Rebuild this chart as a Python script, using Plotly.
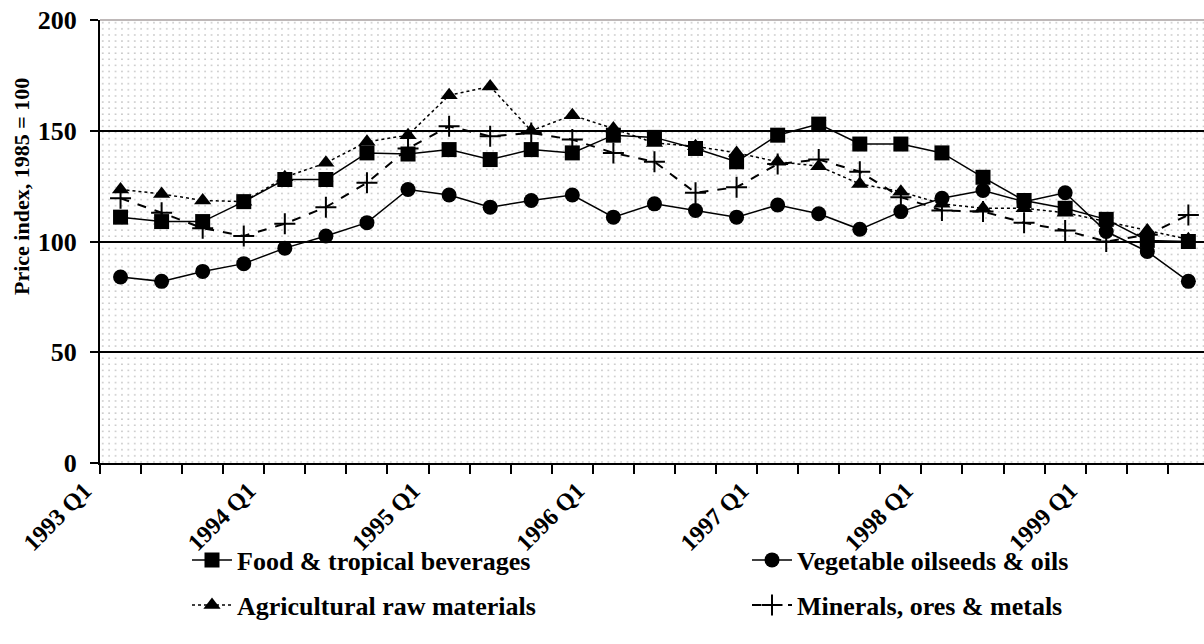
import base64
import plotly.graph_objects as go

quarters = ["1993 Q1", "1993 Q2", "1993 Q3", "1993 Q4",
            "1994 Q1", "1994 Q2", "1994 Q3", "1994 Q4",
            "1995 Q1", "1995 Q2", "1995 Q3", "1995 Q4",
            "1996 Q1", "1996 Q2", "1996 Q3", "1996 Q4",
            "1997 Q1", "1997 Q2", "1997 Q3", "1997 Q4",
            "1998 Q1", "1998 Q2", "1998 Q3", "1998 Q4",
            "1999 Q1", "1999 Q2", "1999 Q3"]

food = [111, 109, 109, 118, 128, 128, 140, 139.5, 141.5, 137, 141.5, 140, 148, 147,
        142, 136, 148, 153, 144, 144, 140, 129, 118.5, 115, 110, 100.5, 100]
vegetable = [84, 82, 86.5, 90, 97, 102.5, 108.5, 123.5, 121, 115.5, 118.5, 121, 111, 117,
             114, 111, 116.5, 112.5, 105.5, 113.5, 119.5, 123, 118, 122, 104.5, 95.5, 82]
agricultural = [123.5, 121.5, 118.5, 118, 129, 135.5, 145, 148, 166, 170, 150, 157, 151, 144.5,
                143, 140, 136, 134, 126, 122.5, 117, 115, 115, 113, 109, 105, 101]
minerals = [119.5, 113, 106, 102.5, 108, 115.5, 126.5, 142, 152, 147.5, 149, 146, 140, 136,
            122, 124.5, 135, 137, 131.5, 120, 114, 113.5, 108.5, 105, 100, 103, 112]

series_names = ["Food & tropical beverages", "Vegetable oilseeds & oils",
                "Agricultural raw materials", "Minerals, ores & metals"]

y_ticks = [0, 50, 100, 150, 200]

W, H = 1204, 644
ML, MR, MT, MB = 100, 0, 20, 181
PW, PH = W - ML - MR, H - MT - MB

FONT = "Liberation Serif, Times New Roman, serif"

x_idx = list(range(len(quarters)))
label_idx = [i for i, q in enumerate(quarters) if q.endswith("Q1")]

# legend placement (pixels): (text start x, row centre y)
legend_pos = [(238, 560), (798, 560), (238, 605), (798, 605)]
legend_ids = ["legend", "legend2", "legend3", "legend4"]

fig = go.Figure()

styles = [
    (food, dict(color="black", width=1.5, dash="solid"), dict(symbol="square", size=15, color="black")),
    (vegetable, dict(color="black", width=1.5, dash="solid"), dict(symbol="circle", size=15, color="black")),
    (agricultural, dict(color="black", width=1.5, dash="dot"), dict(symbol="triangle-up", size=15, color="black")),
    (minerals, dict(color="black", width=2, dash="dash"),
     dict(symbol="cross-thin", size=15, color="black", line=dict(color="black", width=2))),
]

for name, (vals, ln, mk), lid in zip(series_names, styles, legend_ids):
    fig.add_trace(go.Scatter(x=x_idx, y=vals, name=name, mode="lines+markers",
                             line=ln, marker=mk, legend=lid))

# dotted background pattern
svg = f'''<svg xmlns="http://www.w3.org/2000/svg" width="{PW}" height="{PH}">
<defs><pattern id="p" width="6.4" height="6.1" patternUnits="userSpaceOnUse">
<rect x="2" y="2" width="1.5" height="1.5" fill="#c0c0c0"/></pattern></defs>
<rect width="100%" height="100%" fill="white"/>
<rect width="100%" height="100%" fill="url(#p)"/></svg>'''
uri = "data:image/svg+xml;base64," + base64.b64encode(svg.encode()).decode()

legend_font = dict(family=FONT, size=26, weight="bold", color="black")
legends = {}
for lid, (tx, ty) in zip(legend_ids, legend_pos):
    legends[lid] = dict(orientation="h", x=(tx - 51) / W, y=1 - ty / H,
                        xref="container", yref="container",
                        xanchor="left", yanchor="middle",
                        bgcolor="rgba(0,0,0,0)", font=legend_font, itemwidth=40)

fig.update_layout(
    width=W, height=H,
    margin=dict(l=ML, r=MR, t=MT, b=MB, pad=0, autoexpand=False),
    paper_bgcolor="white", plot_bgcolor="white",
    font=dict(family=FONT, color="black"),
    images=[dict(source=uri, xref="paper", yref="paper", x=0, y=1, sizex=1, sizey=1,
                 xanchor="left", yanchor="top", sizing="stretch", layer="below")],
    showlegend=True,
    shapes=[dict(type="line", xref="paper", yref="paper", x0=0, x1=1, y0=1, y1=1,
                 line=dict(color="#a8a0a0", width=1.5))],
    annotations=[dict(text="Price index, 1985 = 100", xref="paper", yref="paper",
                      x=(21 - ML) / PW, y=(463 - 187) / PH, textangle=-90,
                      showarrow=False, xanchor="center", yanchor="middle",
                      font=dict(family=FONT, size=22, weight="bold", color="black"))],
    **legends,
)

fig.update_xaxes(
    range=[-0.5, -0.5 + PW / 41.07], tickmode="array", tickvals=label_idx,
    ticktext=[quarters[i] for i in label_idx], tickangle=-45, ticks="",
    ticklabelstandoff=2, ticklabelshift=-36,
    tickfont=dict(family=FONT, size=24, weight="bold", color="black"),
    showline=True, linecolor="black", linewidth=2, showgrid=False, zeroline=False,
    minor=dict(tick0=-0.5, dtick=1, ticks="outside", ticklen=9, tickcolor="black",
               tickwidth=1.5, showgrid=False),
)
fig.update_yaxes(
    range=[0, 200], tickmode="array", tickvals=y_ticks, ticks="outside", ticklen=8,
    tickcolor="black", tickwidth=1.5, ticklabelstandoff=8,
    tickfont=dict(family=FONT, size=26, weight="bold", color="black"),
    showline=True, linecolor="black", linewidth=2, showgrid=True, gridcolor="black",
    gridwidth=1.5, zeroline=False,
)

fig.write_html("out.html")
